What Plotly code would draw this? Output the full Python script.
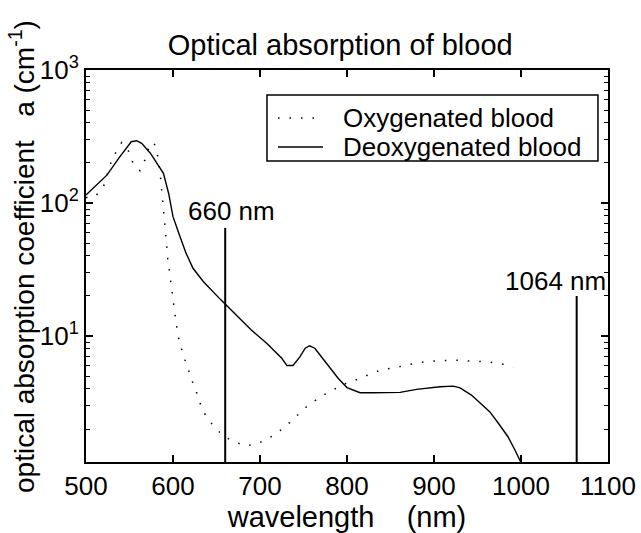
import plotly.graph_objects as go
import math

# Absorption spectra of whole blood (cm^-1) versus wavelength (nm)
oxy_nm = [500, 510, 520, 530, 541, 549, 554, 562, 568, 572, 578, 582, 585, 588,
          590, 592, 594, 596, 598, 600, 602, 604, 607, 611, 615, 620, 624, 629,
          633, 640, 649, 659, 671, 684, 697, 710, 721, 732, 742, 752, 763, 775,
          786, 800, 816, 828, 842, 855, 869, 882, 895, 910, 923, 937, 950, 964,
          978, 991]
oxy_mua = [110, 111, 132, 215, 285, 245, 200, 175, 213, 258, 286, 235, 175, 110,
           80, 55, 38, 30, 24, 19.5, 15.5, 12, 9.2, 7.6, 6.2, 5.1, 4.2, 3.5,
           2.85, 2.38, 2.02, 1.75, 1.6, 1.49, 1.55, 1.70, 1.9, 2.17, 2.5, 2.89, 3.26, 3.66,
           4.0, 4.45, 4.81, 5.25, 5.62, 5.78, 6.06, 6.3, 6.46, 6.57, 6.6, 6.5, 6.46, 6.38,
           6.17, 5.8]

deoxy_nm = [500, 512, 524, 539, 552, 558, 564, 574, 583, 589, 595, 600, 608, 615,
            623, 635, 655, 673, 690, 708, 725, 731, 738, 746, 752, 757, 763, 769,
            781, 790, 800, 815, 830, 861, 880, 907, 922, 930, 943, 955, 964, 974,
            985, 993, 1000]
deoxy_mua = [115, 137, 162, 223, 289, 294, 281, 237, 193, 167, 118, 79, 56, 42,
             32.3, 25.6, 18.7, 14.4, 11.1, 8.8, 6.8, 6.0, 6.0, 7.0, 8.1, 8.45, 8.1, 7.2,
             5.7, 4.8, 4.1, 3.75, 3.75, 3.77, 3.97, 4.16, 4.2, 4.08, 3.6, 3.03, 2.7, 2.21,
             1.75, 1.39, 1.12]

series_names = ["Oxygenated blood", "Deoxygenated blood"]

# Laser wavelengths marked on the chart and the height of each marker
laser_nm = [660, 1064]
laser_labels = ["660 nm", "1064 nm"]
laser_top = [65, 20]

x_ticks = [500, 600, 700, 800, 900, 1000, 1100]
y_ticks = [10, 100, 1000]
y_ticktext = ["10<sup>1</sup>", "10<sup>2</sup>", "10<sup>3</sup>"]
y_minor = [m * 10 ** e for e in range(0, 3) for m in range(2, 10)]

FONT = "Liberation Sans, Arial, Helvetica, sans-serif"
DOTTED = "1.5px,10px"
y_low = 0.053

fig = go.Figure()
fig.add_trace(go.Scatter(
    x=oxy_nm, y=oxy_mua, mode="lines", name=series_names[0],
    line=dict(color="black", width=1.5, dash=DOTTED),
))
fig.add_trace(go.Scatter(
    x=deoxy_nm, y=deoxy_mua, mode="lines", name=series_names[1],
    line=dict(color="black", width=1.4),
))
for wl, top, lab in zip(laser_nm, laser_top, laser_labels):
    fig.add_trace(go.Scatter(
        x=[wl, wl], y=[10 ** y_low, top], mode="lines",
        line=dict(color="black", width=2), hoverinfo="skip",
    ))
    fig.add_annotation(
        x=wl, y=math.log10(top), xref="x", yref="y", text=lab,
        showarrow=False, xanchor="center", yanchor="bottom",
        xshift=-21 if wl > 1000 else 6, yshift=-2 if wl > 1000 else 0,
        font=dict(family=FONT, size=26, color="black"),
    )

axis_common = dict(
    showline=True, linecolor="black", linewidth=2, mirror="ticks",
    ticks="inside", tickcolor="black", tickwidth=1.5, ticklen=7,
    showgrid=False, zeroline=False, automargin=False,
    tickfont=dict(family=FONT, size=26, color="black"),
)

fig.update_xaxes(
    range=[500, 1100], tickmode="array", tickvals=x_ticks,
    ticklabelstandoff=0,
    title=dict(text="wavelength\u00a0\u00a0\u00a0\u00a0(nm)",
               font=dict(family=FONT, size=29, color="black"), standoff=13),
    **axis_common,
)
fig.update_yaxes(
    type="log", range=[y_low, 3], tickmode="array", tickvals=y_ticks,
    ticktext=y_ticktext,
    minor=dict(tickmode="array", tickvals=y_minor, ticks="inside", ticklen=4,
               tickcolor="black", tickwidth=1, showgrid=False),
    **axis_common,
)

fig.add_annotation(
    x=-0.1226, y=0.523, xref="paper", yref="paper", textangle=-90,
    text="optical absorption coefficient\u00a0\u00a0\u00a0a\u00a0(cm<sup>-1</sup>)",
    showarrow=False, xanchor="center", yanchor="middle",
    font=dict(family=FONT, size=28, color="black"),
)

# Boxed key in the upper right of the axes
key_box = dict(x0=0.3467, x1=0.9808, y0=0.7679, y1=0.9362)
key_rows = [0.8776, 0.8036]
key_styles = [DOTTED, "solid"]
fig.add_shape(type="rect", xref="paper", yref="paper", **key_box,
              line=dict(color="black", width=1.5), fillcolor="white", layer="above")
for row, style, name in zip(key_rows, key_styles, series_names):
    fig.add_shape(type="line", xref="paper", yref="paper",
                  x0=0.3678, x1=0.4540, y0=row, y1=row, layer="above",
                  line=dict(color="black", width=1.5 if style == DOTTED else 1.4,
                            dash=style))
    fig.add_annotation(x=0.4885, y=row, xref="paper", yref="paper", text=name,
                       showarrow=False, xanchor="left", yanchor="middle",
                       font=dict(family=FONT, size=26, color="black"))

fig.update_layout(
    width=641, height=533,
    margin=dict(l=86, r=33, t=70, b=71, autoexpand=False),
    paper_bgcolor="white", plot_bgcolor="white",
    title=dict(text="Optical absorption of blood", xref="paper", x=0.487,
               xanchor="center", y=1 - 45 / 533, yanchor="middle",
               font=dict(family=FONT, size=29, color="black")),
    showlegend=False,
)

fig.write_html("out.html")
